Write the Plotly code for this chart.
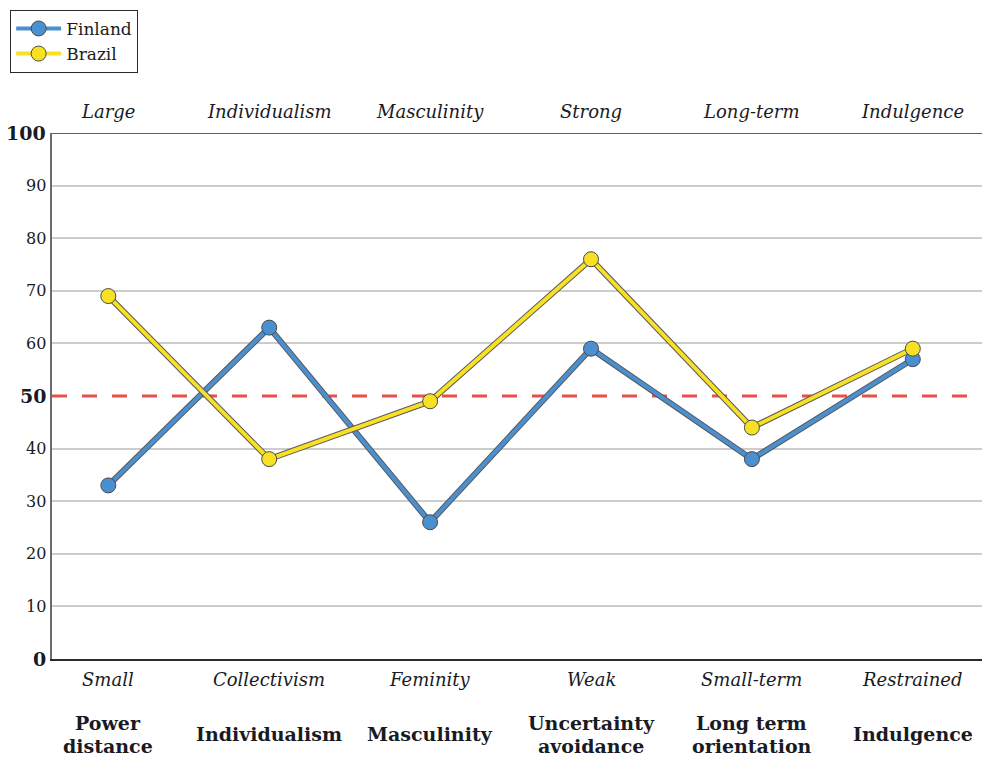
import plotly.graph_objects as go

# Hofstede cultural dimension scores
dimensions = ["Power<br>distance", "Individualism", "Masculinity",
              "Uncertainty<br>avoidance", "Long term<br>orientation", "Indulgence"]
high_labels = ["Large", "Individualism", "Masculinity", "Strong", "Long-term", "Indulgence"]
low_labels = ["Small", "Collectivism", "Feminity", "Weak", "Small-term", "Restrained"]
finland = [33, 63, 26, 59, 38, 57]
brazil = [69, 38, 49, 76, 44, 59]
y_ticks = [0, 10, 20, 30, 40, 50, 60, 70, 80, 90, 100]
bold_ticks = [0, 50, 100]

FONT = "DejaVu Serif"
TEXT = "#1a1a24"
positions = list(range(len(dimensions)))

fig = go.Figure()

series = [("Finland", finland, "#4a8fcf"), ("Brazil", brazil, "#f8e124")]
for name, vals, col in series:
    # dark outline under the coloured line
    fig.add_trace(go.Scatter(
        x=positions, y=vals, mode="lines",
        line=dict(color="#5a5a5a", width=6),
        showlegend=False, hoverinfo="skip"))
    fig.add_trace(go.Scatter(
        x=positions, y=vals, mode="lines+markers", name=name,
        line=dict(color=col, width=4),
        marker=dict(size=15, color=col, line=dict(color="#4a4a4a", width=1))))

shapes = [
    dict(type="line", xref="paper", yref="y", x0=0, x1=1, y0=50, y1=50,
         line=dict(color="#e8504a", width=3, dash="15px,15px"), layer="below"),
    dict(type="line", xref="paper", yref="y", x0=0, x1=1, y0=100, y1=100,
         line=dict(color="#2a2a30", width=1.5)),
]

annotations = []
for v in y_ticks:
    bold = v in bold_ticks
    annotations.append(dict(
        xref="paper", yref="y", x=0, y=v, xanchor="right", yanchor="middle",
        xshift=-4, showarrow=False,
        text=f"<b>{v}</b>" if bold else str(v),
        font=dict(family=FONT, size=19 if bold else 16, color=TEXT)))

for i in positions:
    annotations.append(dict(
        xref="x", yref="paper", x=i, y=1, yanchor="bottom", yshift=9,
        showarrow=False, text=f"<i>{high_labels[i]}</i>",
        font=dict(family=FONT, size=18, color=TEXT)))
    annotations.append(dict(
        xref="x", yref="paper", x=i, y=0, yanchor="top", yshift=-8,
        showarrow=False, text=f"<i>{low_labels[i]}</i>",
        font=dict(family=FONT, size=18, color=TEXT)))
    lines = dimensions[i].split("<br>")
    for k, ln in enumerate(lines):
        offset = (k - (len(lines) - 1) / 2) * 23
        annotations.append(dict(
            xref="x", yref="paper", x=i, y=0, yanchor="middle",
            yshift=-75 - offset, showarrow=False, text=f"<b>{ln}</b>",
            font=dict(family=FONT, size=19, color=TEXT)))

grid_vals = [v for v in y_ticks if v not in bold_ticks]

fig.update_layout(
    width=982, height=757,
    margin=dict(l=52, r=0, t=133, b=98),
    paper_bgcolor="white", plot_bgcolor="white",
    font=dict(family=FONT, color=TEXT),
    xaxis=dict(range=[-0.35, 5.43], showticklabels=False, showgrid=False,
               zeroline=False, showline=True, linecolor="#2a2a30", linewidth=1.5,
               ticks=""),
    yaxis=dict(range=[0, 100], tickvals=grid_vals, showticklabels=False,
               showgrid=True, gridcolor="#cccccc", gridwidth=1.5,
               zeroline=False, showline=True, linecolor="#6a6a72", linewidth=1.5,
               ticks=""),
    legend=dict(x=-0.045, y=1.234, xanchor="left", yanchor="top",
                bordercolor="#2a2a30", borderwidth=1, bgcolor="white",
                font=dict(family=FONT, size=17, color=TEXT),
                tracegroupgap=4, itemwidth=45),
    shapes=shapes,
    annotations=annotations,
    showlegend=True,
)

fig.write_html("out.html")
